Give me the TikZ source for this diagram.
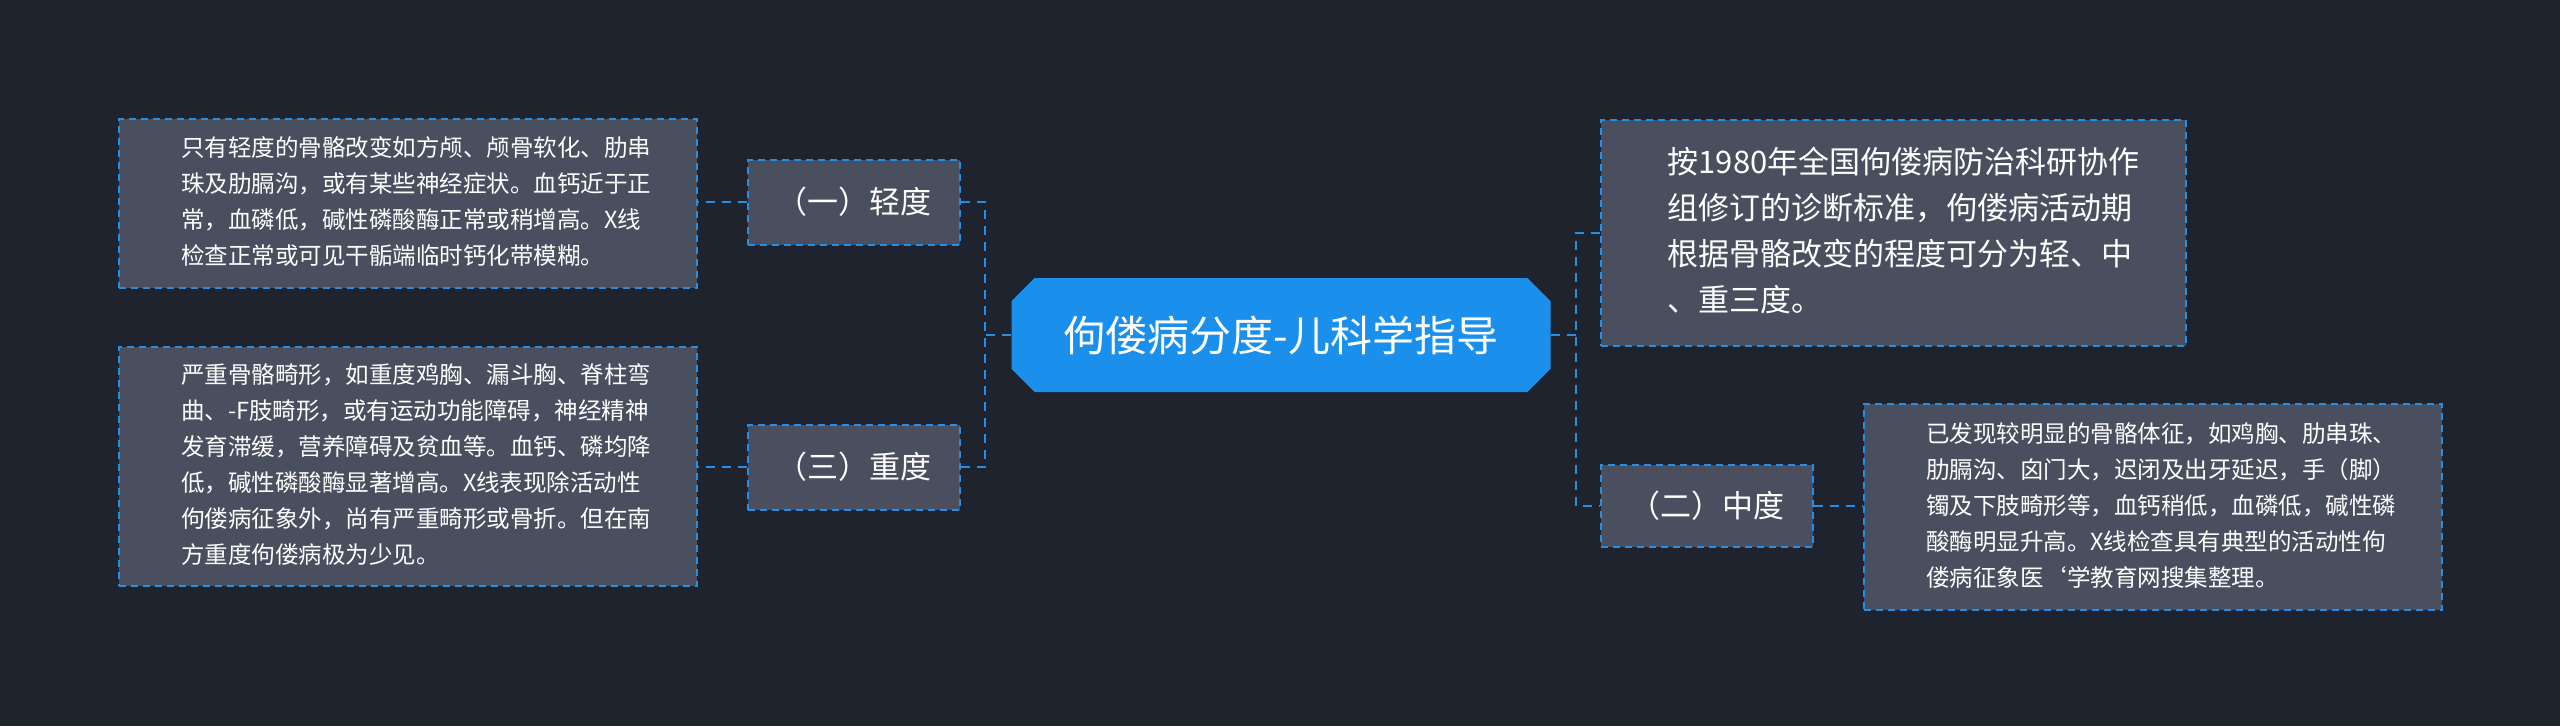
\documentclass[tikz,border=0pt]{standalone}
\usepackage{fontspec}
\setmainfont{Noto Sans CJK SC}
\usetikzlibrary{shapes.misc}
\definecolor{bg}{RGB}{31,35,46}
\definecolor{boxf}{RGB}{73,79,94}
\definecolor{ln}{RGB}{36,143,229}
\definecolor{cen}{RGB}{26,144,236}
\begin{document}
\begin{tikzpicture}[x=1pt,y=-1pt,
  box/.style={draw=ln,dashed,line width=2pt,dash pattern=on 7pt off 5pt,fill=boxf,text=white,inner sep=0pt,anchor=north west,align=left},
  conn/.style={draw=ln,line width=2.5pt,dash pattern=on 9pt off 7pt},
  ]
\fill[bg] (0,0) rectangle (2560,726);
\useasboundingbox (0,0) rectangle (2560,726);
% center
\node[chamfered rectangle,chamfered rectangle xsep=30pt,fill=cen,text=white,font=\fontsize{42}{50}\selectfont,minimum width=539pt,minimum height=114pt,inner sep=0pt] (c) at (1281,335) {佝偻病分度-儿科学指导};
% left mid nodes
\node[box,minimum width=212pt,minimum height=85pt,font=\fontsize{31}{40}\selectfont,anchor=center] (l1) at (854,202) {（一）轻度};
\node[box,minimum width=212pt,minimum height=85pt,font=\fontsize{31}{40}\selectfont,anchor=center] (l3) at (854,467) {（三）重度};
\node[box,minimum width=212pt,minimum height=82pt,font=\fontsize{31}{40}\selectfont,anchor=center] (r2) at (1707,506) {（二）中度};
% detail boxes
\node[box,minimum width=578pt,minimum height=169pt,font=\fontsize{23.5}{36}\selectfont] (d1) at (118,118) {\hspace*{16pt}\begin{tabular}{@{}l@{}}只有轻度的骨骼改变如方颅、颅骨软化、肋串\\珠及肋膈沟，或有某些神经症状。血钙近于正\\常，血磷低，碱性磷酸酶正常或稍增高。X线\\检查正常或可见干骺端临时钙化带模糊。\end{tabular}};
\node[box,minimum width=578pt,minimum height=239pt,font=\fontsize{23.5}{36}\selectfont] (d3) at (118,346) {\hspace*{16pt}\begin{tabular}{@{}l@{}}严重骨骼畸形，如重度鸡胸、漏斗胸、脊柱弯\\曲、-F肢畸形，或有运动功能障碍，神经精神\\发育滞缓，营养障碍及贫血等。血钙、磷均降\\低，碱性磷酸酶显著增高。X线表现除活动性\\佝偻病征象外，尚有严重畸形或骨折。但在南\\方重度佝偻病极为少见。\end{tabular}};
\node[box,minimum width=585pt,minimum height=226pt,font=\fontsize{31}{46}\selectfont] (r1) at (1600,119) {\hspace*{20pt}\begin{tabular}{@{}l@{}}按1980年全国佝偻病防治科研协作\\组修订的诊断标准，佝偻病活动期\\根据骨骼改变的程度可分为轻、中\\、重三度。\end{tabular}};
\node[box,minimum width=578pt,minimum height=206pt,font=\fontsize{23.5}{36}\selectfont] (d2) at (1863,403) {\hspace*{16pt}\begin{tabular}{@{}l@{}}已发现较明显的骨骼体征，如鸡胸、肋串珠、\\肋膈沟、囟门大，迟闭及出牙延迟，手（脚）\\镯及下肢畸形等，血钙稍低，血磷低，碱性磷\\酸酶明显升高。X线检查具有典型的活动性佝\\偻病征象医`学教育网搜集整理。\end{tabular}};
% connectors
\coordinate (tl) at (985,335);
\coordinate (tr) at (1576,335);
\draw[conn] (c.west) -- (tl);
\draw[conn] (c.east) -- (tr);
\draw[conn] (l1.east) -| (tl) |- (l3.east);
\draw[conn] (r1.west) -| (tr) |- (r2.west);
\draw[conn] (l1.west) -- (d1.east |- l1.west);
\draw[conn] (l3.west) -- (d3.east |- l3.west);
\draw[conn] (r2.east) -- (d2.west |- r2.east);
\end{tikzpicture}
\end{document}
